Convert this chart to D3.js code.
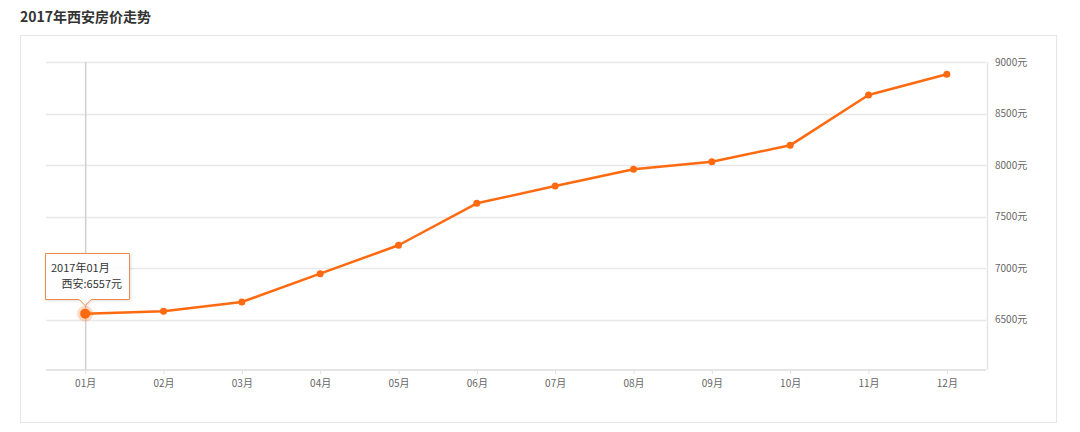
<!DOCTYPE html>
<html><head><meta charset="utf-8">
<script src="https://cdn.jsdelivr.net/npm/d3@7"></script>
<style>
body{margin:0;background:#fff;font-family:"Microsoft YaHei","Noto Sans CJK SC",sans-serif;}
svg{display:block}
</style></head><body>
<svg id="c" width="1080" height="432"></svg>
<script>
const months = ["01月","02月","03月","04月","05月","06月","07月","08月","09月","10月","11月","12月"];
const prices = [6557,6580,6670,6945,7221,7628,7796,7958,8032,8191,8680,8881];
const yTicks = [6500,7000,7500,8000,8500,9000];
const title = "2017年西安房价走势";
const cityName = "西安";
const year = "2017";

const svg = d3.select("#c");
const color = "#ff6a10";
const L = 46, R = 986, T = 62, B = 371;

svg.append("text").attr("x",20).attr("y",22).attr("font-size",14).attr("font-weight","bold")
  .attr("fill","#333").text(title);
svg.append("rect").attr("x",20.5).attr("y",35.5).attr("width",1036).attr("height",387)
  .attr("fill","#fff").attr("stroke","#e6e6e6");

const x = d3.scalePoint().domain(months).range([L,R]).padding(0.5);
const y = d3.scaleLinear().domain([6000,9000]).range([B,T]);

svg.append("g").selectAll("line").data(yTicks).join("line")
  .attr("x1",L).attr("x2",R).attr("y1",d=>Math.round(y(d))+0.5).attr("y2",d=>Math.round(y(d))+0.5)
  .attr("stroke","#e8e8e8").attr("stroke-width",1.5);
svg.append("line").attr("x1",R+1.5).attr("x2",R+1.5).attr("y1",T).attr("y2",B-1)
  .attr("stroke","#e6e6e6").attr("stroke-width",1.5);

const ya = svg.append("g").attr("transform",`translate(${R},0)`)
  .call(d3.axisRight(y).tickValues(yTicks).tickSize(0).tickPadding(9).tickFormat(d=>d+"元"));
ya.select(".domain").remove();
ya.selectAll("text").attr("font-size",10).attr("fill","#666").attr("font-family","'Microsoft YaHei','Noto Sans CJK SC',sans-serif");

svg.append("line").attr("x1",x(months[0])+0.5).attr("x2",x(months[0])+0.5).attr("y1",T).attr("y2",B-1)
  .attr("stroke","#d0d0d0").attr("stroke-width",1.5);

const xa = svg.append("g").attr("transform",`translate(0,${B-1})`)
  .call(d3.axisBottom(x).tickSize(4).tickPadding(6).tickSizeOuter(0));
xa.select(".domain").attr("stroke","#dcdcdc").attr("stroke-width",1.5).attr("d",`M${L},0H${R}`);
xa.selectAll(".tick line").attr("stroke","#e0e0e0");
xa.selectAll("text").attr("font-size",10).attr("fill","#666").attr("font-family","'Microsoft YaHei','Noto Sans CJK SC',sans-serif");

const data = months.map((m,i)=>({m,v:prices[i]}));
svg.append("path").datum(data)
  .attr("d",d3.line().x(d=>x(d.m)).y(d=>y(d.v)))
  .attr("fill","none").attr("stroke",color).attr("stroke-width",2.5).attr("stroke-linejoin","round");
svg.append("g").selectAll("circle").data(data.slice(1)).join("circle")
  .attr("cx",d=>x(d.m)).attr("cy",d=>y(d.v)).attr("r",3.5).attr("fill",color);

const hx = x(months[0]), hy = y(prices[0]);
svg.append("circle").attr("cx",hx).attr("cy",hy).attr("r",8).attr("fill",color).attr("opacity",0.25);
svg.append("circle").attr("cx",hx).attr("cy",hy).attr("r",5).attr("fill",color);

const defs = svg.append("defs");
const f = defs.append("filter").attr("id","sh").attr("x","-20%").attr("y","-20%").attr("width","140%").attr("height","150%");
f.append("feDropShadow").attr("dx",1).attr("dy",1).attr("stdDeviation",1.5).attr("flood-color","#000").attr("flood-opacity",0.12);
const tx0 = 45.5, ty0 = 253.5, tw = 84, th = 46;
const tp = `M${tx0},${ty0}H${tx0+tw}V${ty0+th}H${hx+6}L${hx},${ty0+th+6}L${hx-6},${ty0+th}H${tx0}Z`;
svg.append("path").attr("d",tp).attr("fill","#fff").attr("fill-opacity",0.92)
  .attr("stroke","#ee8a4a").attr("stroke-width",1).attr("filter","url(#sh)");
svg.append("text").attr("x",51).attr("y",272).attr("font-size",11).attr("fill","#333").text(year+"年"+months[0]);
svg.append("text").attr("x",122).attr("y",288).attr("text-anchor","end").attr("font-size",11).attr("fill","#333")
  .text(cityName+":"+prices[0]+"元");
</script>
</body></html>
